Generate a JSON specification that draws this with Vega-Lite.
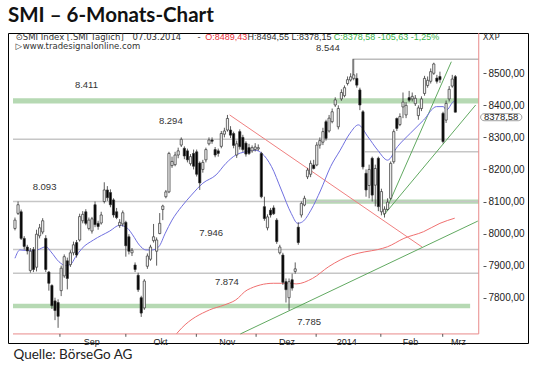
{
  "$schema": "https://vega.github.io/schema/vega-lite/v6.json",
  "width": 520,
  "height": 310,
  "autosize": {"type": "none"},
  "padding": {"left": 8, "top": 33, "right": 12, "bottom": 28},
  "background": "white",
  "title": {"text": "SMI – 6-Monats-Chart", "anchor": "start", "frame": "group", "font": "Lato", "fontSize": 20.5, "fontWeight": "bold", "color": "#111", "offset": 6},
  "config": {"view": {"stroke": "#000", "strokeWidth": 1}, "font": "Liberation Sans"},
  "datasets": {
    "candles": [
      {"t":0,"o":8016,"h":8050,"l":8010,"c":8042},{"t":1,"o":8063,"h":8100,"l":8058,"c":8090},{"t":2,"o":8068,"h":8075,"l":7980,"c":7985},{"t":3,"o":7985,"h":7992,"l":7950,"c":7960},{"t":4,"o":7958,"h":7965,"l":7935,"c":7946},{"t":5,"o":7885,"h":7955,"l":7878,"c":7945},{"t":6,"o":7950,"h":7958,"l":7880,"c":7888},{"t":7,"o":7895,"h":8012,"l":7882,"c":7998},{"t":8,"o":7993,"h":8030,"l":7985,"c":8018},{"t":9,"o":8005,"h":8048,"l":7998,"c":8040},
      {"t":10,"o":7985,"h":7995,"l":7880,"c":7888},{"t":11,"o":7880,"h":7883,"l":7822,"c":7845},{"t":12,"o":7838,"h":7842,"l":7765,"c":7775},{"t":13,"o":7790,"h":7800,"l":7730,"c":7760},{"t":14,"o":7785,"h":7795,"l":7706,"c":7742},{"t":15,"o":7822,"h":7900,"l":7805,"c":7892},{"t":16,"o":7868,"h":7935,"l":7862,"c":7928},{"t":17,"o":7915,"h":7925,"l":7826,"c":7860},{"t":18,"o":7903,"h":7948,"l":7896,"c":7940},{"t":19,"o":7940,"h":7975,"l":7932,"c":7965},
      {"t":20,"o":7972,"h":7980,"l":7925,"c":7933},{"t":21,"o":7980,"h":8062,"l":7975,"c":8053},{"t":22,"o":8040,"h":8070,"l":8032,"c":8060},{"t":23,"o":8068,"h":8076,"l":8026,"c":8032},{"t":24,"o":8016,"h":8050,"l":8010,"c":8042},{"t":25,"o":8008,"h":8052,"l":8000,"c":8046},{"t":26,"o":8090,"h":8100,"l":8020,"c":8028},{"t":27,"o":8032,"h":8040,"l":8012,"c":8022},{"t":28,"o":8033,"h":8068,"l":8028,"c":8058},{"t":29,"o":8100,"h":8160,"l":8094,"c":8136},
      {"t":30,"o":8136,"h":8148,"l":8102,"c":8112},{"t":31,"o":8128,"h":8138,"l":8082,"c":8090},{"t":32,"o":8105,"h":8110,"l":8050,"c":8058},{"t":33,"o":8068,"h":8080,"l":8045,"c":8050},{"t":34,"o":8025,"h":8045,"l":8018,"c":8035},{"t":35,"o":8030,"h":8072,"l":8022,"c":8065},{"t":36,"o":8035,"h":8040,"l":7928,"c":7962},{"t":37,"o":7990,"h":7998,"l":7935,"c":7945},{"t":38,"o":7940,"h":7955,"l":7930,"c":7948},{"t":39,"o":7902,"h":7910,"l":7880,"c":7888},
      {"t":40,"o":7870,"h":7878,"l":7818,"c":7825},{"t":41,"o":7800,"h":7806,"l":7740,"c":7752},{"t":42,"o":7768,"h":7858,"l":7762,"c":7852},{"t":43,"o":7898,"h":7938,"l":7890,"c":7930},{"t":44,"o":7920,"h":7965,"l":7915,"c":7958},{"t":45,"o":7978,"h":8030,"l":7972,"c":7990},{"t":46,"o":7945,"h":7988,"l":7900,"c":7980},{"t":47,"o":8000,"h":8064,"l":7998,"c":8032},{"t":48,"o":8075,"h":8090,"l":8042,"c":8086},{"t":49,"o":8115,"h":8136,"l":8110,"c":8130},
      {"t":50,"o":8130,"h":8255,"l":8126,"c":8250},{"t":51,"o":8212,"h":8240,"l":8205,"c":8225},{"t":52,"o":8215,"h":8255,"l":8210,"c":8245},{"t":53,"o":8245,"h":8268,"l":8235,"c":8258},{"t":54,"o":8276,"h":8300,"l":8270,"c":8294},{"t":55,"o":8266,"h":8272,"l":8232,"c":8242},{"t":56,"o":8258,"h":8265,"l":8222,"c":8230},{"t":57,"o":8218,"h":8248,"l":8212,"c":8240},{"t":58,"o":8250,"h":8262,"l":8200,"c":8210},{"t":59,"o":8255,"h":8262,"l":8178,"c":8185},
      {"t":60,"o":8220,"h":8225,"l":8136,"c":8158},{"t":61,"o":8200,"h":8230,"l":8190,"c":8222},{"t":62,"o":8230,"h":8268,"l":8222,"c":8262},{"t":63,"o":8280,"h":8300,"l":8275,"c":8292},{"t":64,"o":8292,"h":8300,"l":8280,"c":8288},{"t":65,"o":8262,"h":8270,"l":8238,"c":8245},{"t":66,"o":8258,"h":8265,"l":8240,"c":8250},{"t":67,"o":8272,"h":8320,"l":8266,"c":8312},{"t":68,"o":8310,"h":8330,"l":8300,"c":8320},{"t":69,"o":8323,"h":8370,"l":8318,"c":8359},
      {"t":70,"o":8323,"h":8335,"l":8298,"c":8307},{"t":71,"o":8312,"h":8318,"l":8266,"c":8275},{"t":72,"o":8245,"h":8290,"l":8236,"c":8280},{"t":73,"o":8318,"h":8325,"l":8262,"c":8271},{"t":74,"o":8300,"h":8308,"l":8255,"c":8262},{"t":75,"o":8282,"h":8288,"l":8240,"c":8248},{"t":76,"o":8268,"h":8280,"l":8245,"c":8250},{"t":77,"o":8258,"h":8275,"l":8252,"c":8268},{"t":78,"o":8262,"h":8282,"l":8256,"c":8270},{"t":79,"o":8264,"h":8278,"l":8258,"c":8268},
      {"t":80,"o":8250,"h":8255,"l":8110,"c":8115},{"t":81,"o":8084,"h":8115,"l":8040,"c":8047},{"t":82,"o":8018,"h":8060,"l":8010,"c":8052},{"t":83,"o":8073,"h":8080,"l":8050,"c":8058},{"t":84,"o":8080,"h":8088,"l":8058,"c":8062},{"t":85,"o":8042,"h":8048,"l":7968,"c":7975},{"t":86,"o":7940,"h":7965,"l":7935,"c":7958},{"t":87,"o":7933,"h":7940,"l":7840,"c":7848},{"t":88,"o":7850,"h":7860,"l":7785,"c":7825},{"t":89,"o":7800,"h":7860,"l":7761,"c":7850},
      {"t":90,"o":7856,"h":7875,"l":7822,"c":7830},{"t":91,"o":7882,"h":7910,"l":7875,"c":7890},{"t":92,"o":8020,"h":8035,"l":7965,"c":7972},{"t":93,"o":8058,"h":8100,"l":8050,"c":8094},{"t":94,"o":8089,"h":8118,"l":8085,"c":8110},{"t":95,"o":8177,"h":8205,"l":8170,"c":8198},{"t":96,"o":8185,"h":8228,"l":8176,"c":8219},{"t":97,"o":8214,"h":8230,"l":8200,"c":8203},{"t":98,"o":8214,"h":8285,"l":8210,"c":8276},{"t":99,"o":8276,"h":8300,"l":8265,"c":8290},
      {"t":100,"o":8285,"h":8330,"l":8276,"c":8318},{"t":101,"o":8349,"h":8355,"l":8290,"c":8297},{"t":102,"o":8320,"h":8370,"l":8315,"c":8360},{"t":103,"o":8349,"h":8390,"l":8344,"c":8380},{"t":104,"o":8401,"h":8425,"l":8395,"c":8417},{"t":105,"o":8333,"h":8400,"l":8325,"c":8390},{"t":106,"o":8420,"h":8450,"l":8414,"c":8440},{"t":107,"o":8430,"h":8462,"l":8425,"c":8455},{"t":108,"o":8468,"h":8490,"l":8462,"c":8480},{"t":109,"o":8479,"h":8500,"l":8474,"c":8489},
      {"t":110,"o":8484,"h":8544,"l":8478,"c":8495},{"t":111,"o":8484,"h":8500,"l":8455,"c":8463},{"t":112,"o":8448,"h":8455,"l":8385,"c":8401},{"t":113,"o":8380,"h":8385,"l":8200,"c":8208},{"t":114,"o":8188,"h":8200,"l":8115,"c":8136},{"t":115,"o":8150,"h":8215,"l":8110,"c":8200},{"t":116,"o":8235,"h":8240,"l":8100,"c":8120},{"t":117,"o":8151,"h":8215,"l":8085,"c":8203},{"t":118,"o":8235,"h":8240,"l":8070,"c":8084},{"t":119,"o":8068,"h":8140,"l":8057,"c":8131},
      {"t":120,"o":8062,"h":8085,"l":8050,"c":8076},{"t":121,"o":8075,"h":8110,"l":8072,"c":8098},{"t":122,"o":8110,"h":8225,"l":8105,"c":8219},{"t":123,"o":8224,"h":8325,"l":8218,"c":8318},{"t":124,"o":8359,"h":8362,"l":8320,"c":8328},{"t":125,"o":8340,"h":8375,"l":8335,"c":8365},{"t":126,"o":8395,"h":8440,"l":8360,"c":8410},{"t":127,"o":8370,"h":8410,"l":8360,"c":8400},{"t":128,"o":8424,"h":8445,"l":8410,"c":8416},{"t":129,"o":8420,"h":8440,"l":8412,"c":8428},
      {"t":130,"o":8405,"h":8432,"l":8398,"c":8422},{"t":131,"o":8368,"h":8400,"l":8355,"c":8392},{"t":132,"o":8390,"h":8428,"l":8382,"c":8420},{"t":133,"o":8437,"h":8492,"l":8430,"c":8484},{"t":134,"o":8462,"h":8490,"l":8455,"c":8478},{"t":135,"o":8475,"h":8515,"l":8468,"c":8505},{"t":136,"o":8500,"h":8533,"l":8495,"c":8529},{"t":137,"o":8485,"h":8495,"l":8468,"c":8475},{"t":138,"o":8490,"h":8505,"l":8470,"c":8480},{"t":139,"o":8375,"h":8380,"l":8281,"c":8287},
      {"t":140,"o":8354,"h":8415,"l":8345,"c":8406},{"t":141,"o":8420,"h":8460,"l":8412,"c":8450},{"t":142,"o":8460,"h":8495,"l":8455,"c":8482},{"t":143,"o":8489.43,"h":8494.55,"l":8378.15,"c":8378.58}
    ],
    "ma": [
      {"s":"ma20","t":0,"v":7923},{"s":"ma20","t":1.6,"v":7949},{"s":"ma20","t":5.3,"v":7946},{"s":"ma20","t":7.3,"v":7949},{"s":"ma20","t":10.1,"v":7959},{"s":"ma20","t":11.7,"v":7943},{"s":"ma20","t":14.3,"v":7912},{"s":"ma20","t":16.5,"v":7900},{"s":"ma20","t":18.1,"v":7904},{"s":"ma20","t":19.6,"v":7926},{"s":"ma20","t":21.8,"v":7954},{"s":"ma20","t":25.5,"v":7980},{"s":"ma20","t":30.8,"v":8008},{"s":"ma20","t":34,"v":8026},{"s":"ma20","t":36.6,"v":8016},{"s":"ma20","t":38.2,"v":7996},{"s":"ma20","t":40.4,"v":7964},{"s":"ma20","t":42.5,"v":7949},{"s":"ma20","t":44.6,"v":7949},{"s":"ma20","t":46.7,"v":7959},{"s":"ma20","t":48.8,"v":8001},{"s":"ma20","t":51,"v":8042},{"s":"ma20","t":54.1,"v":8084},{"s":"ma20","t":57.3,"v":8120},{"s":"ma20","t":61,"v":8157},{"s":"ma20","t":65.3,"v":8183},{"s":"ma20","t":68.5,"v":8219},{"s":"ma20","t":71.7,"v":8245},{"s":"ma20","t":74.8,"v":8255},{"s":"ma20","t":78,"v":8260},{"s":"ma20","t":80.2,"v":8250},{"s":"ma20","t":83.3,"v":8209},{"s":"ma20","t":86.5,"v":8136},{"s":"ma20","t":89.7,"v":8063},{"s":"ma20","t":91.8,"v":8032},{"s":"ma20","t":93.4,"v":8037},{"s":"ma20","t":96.1,"v":8073},{"s":"ma20","t":99.3,"v":8136},{"s":"ma20","t":102.5,"v":8209},{"s":"ma20","t":105.6,"v":8260},{"s":"ma20","t":108.8,"v":8313},{"s":"ma20","t":111.5,"v":8339},{"s":"ma20","t":114.6,"v":8302},{"s":"ma20","t":117.8,"v":8260},{"s":"ma20","t":121,"v":8229},{"s":"ma20","t":124.2,"v":8271},{"s":"ma20","t":128.4,"v":8313},{"s":"ma20","t":132.7,"v":8354},{"s":"ma20","t":136.9,"v":8396},{"s":"ma20","t":139.1,"v":8396},{"s":"ma20","t":140.1,"v":8385},{"s":"ma20","t":142.3,"v":8411},{"s":"ma20","t":143,"v":8414},
      {"s":"ma200","t":52.5,"v":7688},{"s":"ma200","t":54.1,"v":7705},{"s":"ma200","t":63.2,"v":7762},{"s":"ma200","t":67.9,"v":7777},{"s":"ma200","t":71.7,"v":7793},{"s":"ma200","t":75.4,"v":7824},{"s":"ma200","t":83.9,"v":7845},{"s":"ma200","t":89.2,"v":7845},{"s":"ma200","t":91.3,"v":7843},{"s":"ma200","t":96.6,"v":7860},{"s":"ma200","t":101.9,"v":7897},{"s":"ma200","t":109.3,"v":7933},{"s":"ma200","t":113.6,"v":7943},{"s":"ma200","t":117.8,"v":7950},{"s":"ma200","t":121,"v":7959},{"s":"ma200","t":126.3,"v":7985},{"s":"ma200","t":132.7,"v":8006},{"s":"ma200","t":138,"v":8032},{"s":"ma200","t":142.8,"v":8048}
    ],
    "bands": [
      {"t1":-0.64,"t2":150.6,"v1":8406,"v2":8422},
      {"t1":94.6,"t2":150.6,"v1":8093,"v2":8106},
      {"t1":-0.64,"t2":147.8,"v1":7767,"v2":7781}
    ],
    "segments": [
      {"k":"level","t1":-0.64,"t2":150.6,"v1":8294,"v2":8294},
      {"k":"level","t1":-0.64,"t2":150.6,"v1":8100,"v2":8100},
      {"k":"level","t1":-0.64,"t2":150.6,"v1":7950,"v2":7950},
      {"k":"level","t1":-0.64,"t2":150.6,"v1":7876,"v2":7876},
      {"k":"level","t1":113.6,"t2":150.6,"v1":8255,"v2":8255},
      {"k":"high","t1":109.6,"t2":150.6,"v1":8544,"v2":8544},
      {"k":"high","t1":109.6,"t2":109.6,"v1":8544,"v2":8495},
      {"k":"trendRed","t1":69.7,"t2":132.2,"v1":8370,"v2":7958},
      {"k":"trendGreen","t1":73.2,"t2":150.3,"v1":7687,"v2":8039},
      {"k":"trendGreen","t1":119.8,"t2":141.7,"v1":8058,"v2":8536},
      {"k":"trendGreen","t1":119.8,"t2":149.6,"v1":8058,"v2":8401},
      {"k":"frame","t1":-0.64,"t2":150.6,"v1":7687,"v2":7687},
      {"k":"frame","t1":150.6,"t2":150.6,"v1":7687,"v2":8625.6},
      {"k":"tick","t1":14.6,"t2":14.6,"v1":7687,"v2":7678},
      {"k":"tick","t1":36,"t2":36,"v1":7687,"v2":7678},
      {"k":"tick","t1":58.9,"t2":58.9,"v1":7687,"v2":7678},
      {"k":"tick","t1":78.3,"t2":78.3,"v1":7687,"v2":7678},
      {"k":"tick","t1":97.8,"t2":97.8,"v1":7687,"v2":7678},
      {"k":"tick","t1":118.8,"t2":118.8,"v1":7687,"v2":7678},
      {"k":"tick","t1":138.9,"t2":138.9,"v1":7687,"v2":7678}
    ],
    "levelLabels": [
      {"t":23.2,"v":8463,"txt":"8.411"},
      {"t":50.6,"v":8351,"txt":"8.294"},
      {"t":9.6,"v":8145,"txt":"8.093"},
      {"t":101.6,"v":8579,"txt":"8.544"},
      {"t":63.7,"v":8002,"txt":"7.946"},
      {"t":68.8,"v":7849,"txt":"7.874"},
      {"t":95.5,"v":7724,"txt":"7.785"}
    ],
    "header": [
      {"t":0.2,"v":8613,"txt":"⊙","part":"label"},
      {"t":2.55,"v":8613,"txt":"SMI Index [.SMI  Täglich]","part":"label"},
      {"t":38.2,"v":8613,"txt":"07.03.2014","part":"label"},
      {"t":59.3,"v":8613,"txt":"-","part":"label"},
      {"t":0.2,"v":8585,"txt":"▷","part":"label"},
      {"t":2.55,"v":8585,"txt":"www.tradesignalonline.com","part":"label"},
      {"t":151.9,"v":8613,"txt":"XXP","part":"label"},
      {"t":61.8,"v":8613,"txt":"O:8489,43","part":"open"},
      {"t":75.5,"v":8613,"txt":"H:8494,55 L:8378,15","part":"info"},
      {"t":103.5,"v":8613,"txt":"C:8378,58 -105,63 -1,25%","part":"close"}
    ],
    "footer": [
      {"t":-0.5,"v":7620,"txt":"Quelle: BörseGo AG"}
    ],
    "lastPrice": [
      {"t1":151.2,"t2":164.6,"v1":8352,"v2":8374,"t":157.9,"v":8363,"txt":"8378,58"}
    ]
  },
  "layer": [
    {
      "data": {"name": "bands"},
      "mark": {"type": "rect", "color": "#b6d9b3"},
      "encoding": {
        "x": {"field": "t1", "type": "quantitative", "scale": {"domain": [-0.64, 164.97], "nice": false, "zero": false},
          "axis": {
            "values": [24.8, 47.1, 68.8, 88.2, 107.6, 128.3, 143.9],
            "labelExpr": "datum.value < 30 ? 'Sep' : datum.value < 55 ? 'Okt' : datum.value < 75 ? 'Nov' : datum.value < 95 ? 'Dez' : datum.value < 115 ? '2014' : datum.value < 135 ? 'Feb' : 'Mrz'",
            "offset": -9, "domain": false, "grid": false, "ticks": false,
            "labelFontSize": 9, "labelColor": "#222", "labelPadding": 3, "labelFlush": false, "labelOverlap": false,
            "title": null
          }},
        "x2": {"field": "t2"},
        "y": {"field": "v1", "type": "quantitative", "scale": {"domain": [7658.7, 8625.6], "nice": false, "zero": false},
          "axis": {
            "orient": "right", "offset": -45, "values": [7800, 7900, 8000, 8100, 8200, 8300, 8400, 8500],
            "labelExpr": "replace(format(datum.value, '.2f'), '.', ',')",
            "domain": false, "grid": false, "tickSize": 3, "tickColor": "#555",
            "labelFontSize": 10, "labelColor": "#222", "labelPadding": 2, "title": null
          }},
        "y2": {"field": "v2"}
      }
    },
    {
      "data": {"name": "segments"},
      "transform": [{"filter": "datum.k == 'level'"}],
      "mark": {"type": "rule", "color": "#c6c6c6", "strokeWidth": 1.5},
      "encoding": {
        "x": {"field": "t1", "type": "quantitative", "title": null},
        "x2": {"field": "t2"},
        "y": {"field": "v1", "type": "quantitative", "title": null},
        "y2": {"field": "v2"}
      }
    },
    {
      "data": {"name": "segments"},
      "transform": [{"filter": "datum.k == 'high'"}],
      "mark": {"type": "rule", "color": "#9a9a9a", "strokeWidth": 1},
      "encoding": {
        "x": {"field": "t1", "type": "quantitative", "title": null},
        "x2": {"field": "t2"},
        "y": {"field": "v1", "type": "quantitative", "title": null},
        "y2": {"field": "v2"}
      }
    },
    {
      "data": {"name": "segments"},
      "transform": [{"filter": "datum.k == 'frame'"}],
      "mark": {"type": "rule", "color": "#e88a8a", "strokeWidth": 1},
      "encoding": {
        "x": {"field": "t1", "type": "quantitative", "title": null},
        "x2": {"field": "t2"},
        "y": {"field": "v1", "type": "quantitative", "title": null},
        "y2": {"field": "v2"}
      }
    },
    {
      "data": {"name": "segments"},
      "transform": [{"filter": "datum.k == 'tick'"}],
      "mark": {"type": "rule", "color": "#555", "strokeWidth": 1},
      "encoding": {
        "x": {"field": "t1", "type": "quantitative", "title": null},
        "x2": {"field": "t2"},
        "y": {"field": "v1", "type": "quantitative", "title": null},
        "y2": {"field": "v2"}
      }
    },
    {
      "data": {"name": "ma"},
      "transform": [{"filter": "datum.s == 'ma200'"}],
      "mark": {"type": "line", "color": "#f07070", "strokeWidth": 1, "interpolate": "monotone"},
      "encoding": {
        "x": {"field": "t", "type": "quantitative", "title": null},
        "y": {"field": "v", "type": "quantitative", "title": null}
      }
    },
    {
      "data": {"name": "segments"},
      "transform": [{"filter": "datum.k == 'trendRed'"}],
      "mark": {"type": "rule", "color": "#f08080", "strokeWidth": 1},
      "encoding": {
        "x": {"field": "t1", "type": "quantitative", "title": null},
        "x2": {"field": "t2"},
        "y": {"field": "v1", "type": "quantitative", "title": null},
        "y2": {"field": "v2"}
      }
    },
    {
      "data": {"name": "segments"},
      "transform": [{"filter": "datum.k == 'trendGreen'"}],
      "mark": {"type": "rule", "color": "#4f9f4f", "strokeWidth": 0.9},
      "encoding": {
        "x": {"field": "t1", "type": "quantitative", "title": null},
        "x2": {"field": "t2"},
        "y": {"field": "v1", "type": "quantitative", "title": null},
        "y2": {"field": "v2"}
      }
    },
    {
      "data": {"name": "ma"},
      "transform": [{"filter": "datum.s == 'ma20'"}],
      "mark": {"type": "line", "color": "#7070e0", "strokeWidth": 1, "interpolate": "monotone"},
      "encoding": {
        "x": {"field": "t", "type": "quantitative", "title": null},
        "y": {"field": "v", "type": "quantitative", "title": null}
      }
    },
    {
      "data": {"name": "candles"},
      "mark": {"type": "rule", "color": "#333", "strokeWidth": 0.8},
      "encoding": {
        "x": {"field": "t", "type": "quantitative", "title": null},
        "y": {"field": "l", "type": "quantitative", "title": null},
        "y2": {"field": "h"}
      }
    },
    {
      "data": {"name": "candles"},
      "mark": {"type": "bar", "width": 2.2, "stroke": "#333", "strokeWidth": 0.7},
      "encoding": {
        "x": {"field": "t", "type": "quantitative", "title": null},
        "y": {"field": "o", "type": "quantitative", "title": null},
        "y2": {"field": "c"},
        "fill": {"condition": {"test": "datum.c >= datum.o", "value": "#f2f2f2"}, "value": "#000"}
      }
    },
    {
      "data": {"name": "levelLabels"},
      "mark": {"type": "text", "fontSize": 9.5, "color": "#333", "align": "center", "baseline": "middle"},
      "encoding": {
        "x": {"field": "t", "type": "quantitative", "title": null},
        "y": {"field": "v", "type": "quantitative", "title": null},
        "text": {"field": "txt"}
      }
    },
    {
      "data": {"name": "header"},
      "transform": [{"filter": "datum.part == 'label'"}],
      "mark": {"type": "text", "font": "DejaVu Sans", "fontSize": 8.5, "color": "#333", "align": "left", "baseline": "middle"},
      "encoding": {
        "x": {"field": "t", "type": "quantitative", "title": null},
        "y": {"field": "v", "type": "quantitative", "title": null},
        "text": {"field": "txt"}
      }
    },
    {
      "data": {"name": "header"},
      "transform": [{"filter": "datum.part != 'label'"}],
      "mark": {"type": "text", "fontSize": 9, "align": "left", "baseline": "middle"},
      "encoding": {
        "x": {"field": "t", "type": "quantitative", "title": null},
        "y": {"field": "v", "type": "quantitative", "title": null},
        "text": {"field": "txt"},
        "color": {"field": "part", "type": "nominal", "scale": {"domain": ["info", "open", "close"], "range": ["#333333", "#e8303a", "#3cb44b"]}, "legend": null}
      }
    },
    {
      "data": {"name": "footer"},
      "mark": {"type": "text", "font": "Lato", "fontSize": 13.5, "color": "#222", "align": "left", "baseline": "middle"},
      "encoding": {
        "x": {"field": "t", "type": "quantitative", "title": null},
        "y": {"field": "v", "type": "quantitative", "title": null},
        "text": {"field": "txt"}
      }
    },
    {
      "data": {"name": "lastPrice"},
      "mark": {"type": "rect", "fill": "white", "stroke": "#888", "strokeWidth": 0.8, "cornerRadius": 4},
      "encoding": {
        "x": {"field": "t1", "type": "quantitative", "title": null},
        "x2": {"field": "t2"},
        "y": {"field": "v1", "type": "quantitative", "title": null},
        "y2": {"field": "v2"}
      }
    },
    {
      "data": {"name": "lastPrice"},
      "mark": {"type": "text", "fontSize": 9.5, "color": "#222", "align": "center", "baseline": "middle"},
      "encoding": {
        "x": {"field": "t", "type": "quantitative", "title": null},
        "y": {"field": "v", "type": "quantitative", "title": null},
        "text": {"field": "txt"}
      }
    }
  ]
}
